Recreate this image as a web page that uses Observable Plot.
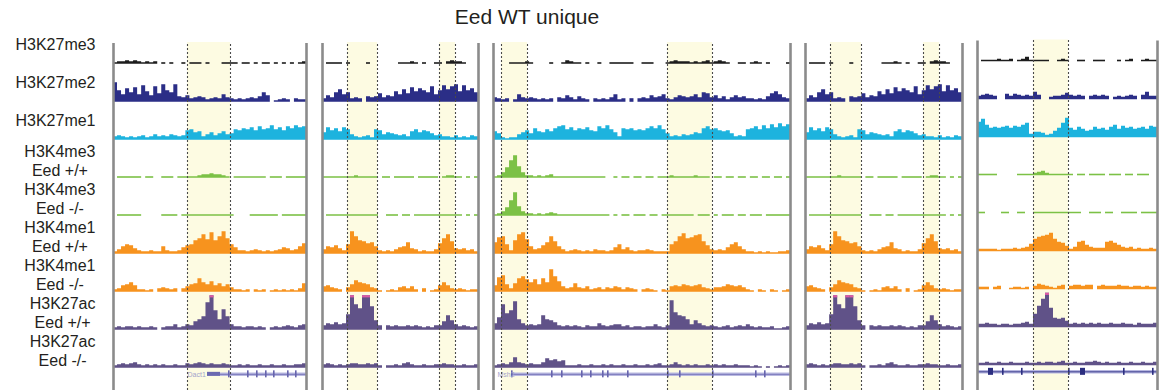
<!DOCTYPE html>
<html><head><meta charset="utf-8">
<script src="https://cdn.jsdelivr.net/npm/d3@7"></script>
<script src="https://cdn.jsdelivr.net/npm/@observablehq/plot@0.6"></script>
<style>
body{margin:0;background:#fff;font-family:"Liberation Sans",Arial,sans-serif;}
#wrap{width:1165px;}
#title{position:relative;height:30px;}
#title span{position:absolute;left:527px;top:6px;transform:translateX(-50%);font-size:21px;line-height:21px;color:#231f20;white-space:nowrap;}
</style></head><body>
<div id="wrap"><div id="title"><span>Eed WT unique</span></div><div id="chart"></div></div>
<script>
// ---------- tracks ----------
const trackLabels = ["H3K27me3","H3K27me2","H3K27me1","H3K4me3\nEed +/+","H3K4me3\nEed -/-","H3K4me1\nEed +/+","H3K4me1\nEed -/-","H3K27ac\nEed +/+","H3K27ac\nEed -/-"];
const trackColors = ["#1c1c1c","#2b2e87","#1db3de","#7cc146","#7cc146","#f7931e","#f7931e","#605288","#605288"];

// ---------- panels (genomic windows, kb) ----------
const panelStartKb = [0, 104.5, 190, 346, 432];
const panelLenKb = [96.5, 78, 148.5, 78.5, 90];

// ---------- highlighted regions (kb, relative to panel start) ----------
const highlightPanel = [0, 1, 1, 2, 2, 3, 3, 4];
const highlightStartKb = [37, 12.5, 58.5, 4, 87, 12.5, 59, 28];
const highlightEndKb = [58.5, 27.5, 66.5, 17, 109.5, 28, 67, 45.5];

// ---------- signal (binned coverage, -1 = no coverage) ----------
const p1_me3 = [0,1,1,2,1,2,1,0, 1,0,1,-1,0,-1,0,-1, -1,0,-1,0,0,0,-1,0, -1,-1,-1,0,0,0,0,-1, 0,0,-1,0,-1,0,0,-1, 0,-1,0,-1,0,-1,0,1];
const p1_me2 = [18,10,6,12,8,13,6,15, 9,5,14,7,16,10,8,16, 4,3,5,2,3,4,3,1, 2,3,2,6,3,2,1,2, 1,2,3,2,4,8,5,-1, 0,1,2,1,-1,2,1,1];
const p1_me1 = [2,3,2,1,2,1,2,3, 1,2,4,2,3,2,4,3, 2,3,8,9,6,7,2,4, 6,3,5,7,4,5,9,8, 10,9,11,8,12,9,10,13, 9,11,8,12,10,13,11,12];
const p1_k4me3p = [-1,0,0,0,0,0,0,-1, 0,0,-1,-1,0,0,0,-1, 0,0,0,0,0,1,2,2, 3,2,2,1,0,-1,0,0, 0,0,0,0,0,0,-1,0, 0,0,-1,0,0,0,0,0];
const p1_k4me3m = [-1,0,0,0,0,0,0,-1, -1,-1,-1,-1,0,0,0,0, -1,0,0,0,0,0,0,0, 0,0,0,0,0,0,-1,-1, -1,-1,0,0,0,0,0,0, 0,-1,0,0,0,0,0,0];
const p1_k4me1p = [1,3,6,8,7,4,2,1, 1,2,1,1,6,2,1,1, 2,5,7,8,12,14,18,13, 20,12,16,21,14,8,5,2, 2,1,2,3,2,1,2,1, 2,3,5,4,2,3,6,9];
const p1_k4me1m = [1,2,5,6,8,5,1,1, 0,1,-1,2,3,2,1,2, -1,2,4,6,7,12,8,6, 9,5,7,4,6,3,1,1, 0,1,-1,1,0,1,-1,0, 1,0,1,0,1,0,2,7];
const p1_acp = [1,2,1,2,2,1,2,1, 1,2,1,-1,1,2,2,4, 1,2,4,3,7,9,12,26, 33,18,9,19,12,4,2,2, 1,2,2,1,2,1,-1,1, 2,1,2,3,2,1,3,4];
const p1_acm = [1,2,3,2,3,4,2,1, 2,1,2,1,2,1,1,2, 1,1,3,2,3,4,3,2, 3,2,2,3,2,1,1,2, 1,2,1,1,2,1,1,2, 1,1,2,1,1,2,2,3];

const p2_me3 = [-1,0,0,0,0,-1,0,-1, -1,-1,-1,0,-1,-1,-1,-1, -1,-1,-1,0,0,0,1,0, -1,0,-1,-1,0,0,-1,1, 2,1,1,0,-1,-1,-1];
const p2_me2 = [2,5,3,8,11,6,8,2, 3,2,-1,4,3,4,7,3, 5,4,9,6,11,7,13,9, 12,10,8,14,6,10,15,11, 14,16,9,15,10,12,8];
const p2_me1 = [6,11,8,10,7,11,9,4, 2,1,2,3,1,9,8,4, 6,5,4,3,4,2,7,9, 6,8,7,5,3,4,2,2, 1,3,1,2,1,3,2];
const p2_k4me3p = [0,0,0,0,0,0,0,0, 1,0,0,0,0,0,-1,0, 0,-1,0,0,0,0,0,-1, 0,0,0,0,0,-1,0,1, 1,0,0,-1,0,-1,0];
const p2_k4me3m = [-1,0,0,0,0,0,0,0, 0,0,0,0,0,0,-1,-1, 0,0,0,-1,0,0,-1,0, 0,0,0,0,0,0,0,0, 0,0,0,-1,0,-1,0];
const p2_k4me1p = [3,6,5,7,4,2,8,21, 16,12,11,9,10,6,2,1, 2,1,3,5,6,10,4,3, 1,2,1,1,3,9,14,18, 11,4,3,4,2,3,1];
const p2_k4me1m = [4,5,3,2,1,-1,3,6, 10,8,7,6,3,2,0,-1, 0,1,0,3,4,2,4,1, -1,2,-1,0,1,5,8,5, 2,1,2,1,0,1,1];
const p2_acp = [3,5,4,6,4,5,14,33, 24,20,33,33,22,8,3,-1, 3,2,3,2,2,3,2,3, 2,1,2,1,3,3,7,13, 8,4,2,3,2,1,2];
const p2_acm = [2,3,2,1,2,1,2,3, 3,2,2,3,2,3,1,-1, 1,1,2,1,3,4,2,1, 1,2,1,1,2,2,3,2, 2,1,1,2,1,1,2];

const p3_me3 = [-1,-1,-1,-1,0,0,0,0, 1,0,-1,-1,-1,-1,0,-1, -1,0,2,1,0,0,-1,0, -1,-1,0,-1,-1,0,0,0, 0,0,0,-1,-1,0,0,0, -1,-1,-1,0,1,2,1,1, 1,0,1,0,1,2,0,1, 2,1,0,-1,-1,0,0,-1, 0,1,0,-1,0,-1,-1,-1, -1,0];
const p3_me2 = [3,2,1,2,-1,1,6,3, 2,3,2,1,2,1,2,-1, 3,2,5,3,1,4,2,1, -1,2,1,2,1,3,6,1, 2,-1,2,-1,2,3,2,5, 3,4,6,2,1,3,5,4, 3,4,6,3,8,7,3,5, 2,4,1,3,5,3,4,2, 2,1,2,1,4,7,9,6, 3,2];
const p3_me1 = [7,5,1,0,1,1,4,6, 8,5,10,7,6,9,7,10, 12,13,9,11,8,10,9,11, 8,7,12,10,13,9,6,2, 10,9,10,8,9,8,10,12, 10,13,9,5,2,3,2,4, 3,4,6,5,10,12,9,10, 8,7,8,5,2,3,2,9, 10,12,9,13,10,14,11,15, 12,14];
const p3_k4me3p = [0,1,4,9,16,21,10,4, 1,1,0,1,0,1,2,0, 0,0,0,0,0,0,0,0, 0,0,0,0,-1,-1,0,-1, 0,0,-1,0,0,-1,0,0, -1,0,0,0,1,0,0,0, 0,0,1,0,0,0,-1,0, 0,-1,0,0,-1,0,0,-1, 0,0,-1,0,0,-1,0,0, -1,0];
const p3_k4me3m = [0,1,3,7,14,22,8,3, 1,1,0,1,0,1,2,1, 0,0,0,0,0,0,0,0, 0,0,0,0,0,-1,0,-1, 0,0,-1,0,0,0,-1,0, 0,-1,0,0,0,0,0,0, 0,0,-1,0,0,0,-1,0, -1,0,0,0,-1,0,0,-1, 0,0,0,-1,0,0,0,0, 0,0];
const p3_k4me1p = [10,15,16,8,2,12,18,20, 13,6,3,4,7,10,16,11, 6,3,1,2,3,2,1,2, 1,3,2,2,1,2,5,8, 3,5,2,1,2,2,3,2, 1,1,1,1,8,11,16,19, 14,15,17,18,11,7,3,2, 3,2,5,8,10,6,3,1, 1,0,1,0,1,0,0,1, 1,2];
const p3_k4me1m = [5,13,15,6,2,7,12,14, 11,8,11,6,12,8,21,14, 9,4,2,3,7,3,2,4, 1,2,3,1,3,2,4,3, 1,3,2,1,-1,1,2,1, 0,-1,1,0,4,5,4,6, 5,4,5,6,3,2,1,3, 3,4,6,5,4,5,3,1, 0,-1,1,0,-1,1,0,-1, 0,1];
const p3_acp = [5,11,24,15,18,27,9,5, 3,4,3,4,13,9,8,6, 3,2,3,2,3,2,1,3, 2,2,5,3,2,3,4,4, 2,3,1,2,2,1,2,2, 4,2,1,3,28,16,13,12, 9,4,8,5,3,2,3,2, 1,2,3,1,2,3,2,4, 2,1,2,1,1,2,0,0, 1,2];
const p3_acm = [1,2,3,2,4,9,4,3, 2,3,2,2,4,8,6,7, 5,6,1,1,1,2,1,1, 2,1,1,2,1,2,1,1, 2,1,1,2,1,1,2,1, 2,3,1,1,2,4,2,1, 2,1,2,1,1,2,1,2, 1,2,1,1,2,1,1,1, 0,1,0,-1,0,-1,0,1, 0,1];

const p5_me3 = [-1,0,0,0,0,1,0,0, 1,-1,0,1,3,0,0,0, 0,0,-1,-1,0,1,0,-1, -1,0,0,-1,-1,0,0,0, -1,-1,-1,0,-1,0,1,-1, -1,0,1,0,0];
const p5_me2 = [2,3,4,3,2,-1,-1,4, 2,4,3,2,3,2,6,3, -1,-1,1,2,2,3,5,3, 2,3,2,-1,2,3,2,3, 2,-1,1,2,1,2,3,2, -1,3,6,2,2];
const p5_me1 = [14,17,11,8,9,8,9,10, 8,10,9,11,13,2,4,4, 3,1,2,5,8,13,18,8, 6,9,7,5,6,9,7,8, 6,9,11,7,10,8,9,7, 8,9,7,10,9];
const p5_k4me3p = [0,0,0,0,0,-1,-1,-1, -1,-1,0,0,0,0,1,2, 3,1,0,0,0,0,0,0, -1,0,0,-1,0,0,0,0, -1,0,0,0,-1,0,0,-1, 0,0,0,-1,-1];
const p5_k4me3m = [0,0,-1,-1,-1,-1,0,0, -1,-1,0,0,-1,-1,0,0, 0,0,0,0,0,0,0,0, 0,0,-1,-1,0,0,0,-1, 0,0,-1,-1,0,0,0,0, -1,0,0,0,0];
const p5_k4me1p = [1,1,1,1,1,0,1,1, 1,2,1,2,3,6,11,13, 14,15,17,11,8,7,4,1, 3,8,9,5,3,2,2,2, 8,9,7,5,3,2,3,1, 2,1,1,2,1];
const p5_k4me1m = [1,1,1,-1,1,2,-1,-1, 0,1,1,0,1,-1,2,4, 3,2,1,0,2,3,-1,2, 3,3,2,3,3,-1,2,3, 2,2,2,3,2,2,1,2, 2,1,2,1,1];
const p5_acp = [2,2,3,2,2,1,2,2, 1,2,2,3,4,2,12,20, 27,33,18,8,7,8,5,2, 3,2,3,2,3,2,3,2, 2,3,2,2,3,2,2,1, 3,2,2,2,3];
const p5_acm = [1,1,2,1,1,2,1,1, 2,1,1,1,2,1,1,2, 1,2,2,1,2,3,1,1, 2,1,1,2,2,3,2,1, 2,1,1,2,1,1,2,1, 1,2,1,1,2];

// panel 4 shows the same window as panel 2
const panelSignals = [
  [p1_me3,p1_me2,p1_me1,p1_k4me3p,p1_k4me3m,p1_k4me1p,p1_k4me1m,p1_acp,p1_acm],
  [p2_me3,p2_me2,p2_me1,p2_k4me3p,p2_k4me3m,p2_k4me1p,p2_k4me1m,p2_acp,p2_acm],
  [p3_me3,p3_me2,p3_me1,p3_k4me3p,p3_k4me3m,p3_k4me1p,p3_k4me1m,p3_acp,p3_acm],
  [p2_me3,p2_me2,p2_me1,p2_k4me3p,p2_k4me3m,p2_k4me1p,p2_k4me1m,p2_acp,p2_acm],
  [p5_me3,p5_me2,p5_me1,p5_k4me3p,p5_k4me3m,p5_k4me1p,p5_k4me1m,p5_acp,p5_acm]
];
const clipValue = 33;

// ---------- genes ----------
const geneNames = ["Dact1", "Msh2", ""];
const genePanel = [0, 2, 4];
const geneStartKb = [47, 9, 0];
const geneEndKb = [96.5, 148.5, 90];
const geneLabelKb = [37, 2, 0];
const utrPanel = [0];
const utrStartKb = [47];
const utrEndKb = [53.5];
const exonPanel = [0,0,0,0,0,0,0, 2,2,2,2,2,2,2,2,2,2,2,2,2, 4,4,4,4,4,4,4];
const exonStartKb = [57.5,67,71.5,76,80,87,91, 9,29,34,44,48.5,54.5,57,67,87,93,109.5,131,135.5, 5.5,51.5,12.5,22,45.5,73,87.5];
const exonEndKb   = [58.3,67.8,72.3,76.8,80.8,87.8,91.8, 9.8,29.8,34.8,44.8,49.3,55.3,57.8,67.8,87.8,93.8,110.3,131.8,136.3, 8,54,13.3,22.8,46.3,73.8,88.3];

// ---------- layout ----------
const W = 1165, H = 360, ML = 113, MR = 8;
const PX = 38;                 // pixels per track row
const k = 1 / PX;
const yTop = 33 / PX, yBot = -(H - 33) / PX;
const xDom = [0, 522];
const panelShiftPx = [0, 0, 0, 0, -2.5];
const hlTop = (33 - 12) / PX, borderTop = (33 - 13) / PX;
const geneRow = -8.18;
const pxToKb = px => xDom[0] + (px - ML) * (xDom[1] - xDom[0]) / (W - ML - MR);
const shiftOf = p => -panelShiftPx[p] * k;

// signal rows
const trackRows = trackLabels.map(() => []);
const caps = [];
let seg = 0;
panelSignals.forEach((tracks, p) => {
  tracks.forEach((arr, t) => {
    const w = panelLenKb[p] / arr.length, s = panelStartKb[p];
    const base = -t + shiftOf(p);
    arr.forEach((v, i) => {
      if (v < 0) return;
      if (i === 0 || arr[i - 1] < 0) seg++;
      const r = {x: s + i * w, y1: base - 0.8 * k, y2: base + (v + 0.8) * k, seg};
      trackRows[t].push(r);
      if (i === arr.length - 1 || arr[i + 1] < 0) trackRows[t].push({...r, x: s + (i + 1) * w});
      if (v >= clipValue) caps.push({x1: s + i * w, x2: s + (i + 1) * w, y1: base + (v - 1.4) * k, y2: base + (v + 0.8) * k});
    });
  });
});

const highlights = highlightPanel.map((p, i) => ({
  x1: panelStartKb[p] + highlightStartKb[i], x2: panelStartKb[p] + highlightEndKb[i], p}));
const hlEdges = highlights.flatMap(h => [{x: h.x1, p: h.p}, {x: h.x2, p: h.p}]);
const borders = panelStartKb.flatMap((s, p) => [{x: s, p}, {x: s + panelLenKb[p], p}]);

const genes = genePanel.map((p, i) => ({
  x1: panelStartKb[p] + geneStartKb[i], x2: panelStartKb[p] + geneEndKb[i],
  lx: panelStartKb[p] + geneLabelKb[i], name: geneNames[i], p,
  y: geneRow + shiftOf(p)}));
const utrs = utrPanel.map((p, i) => ({x1: panelStartKb[p] + utrStartKb[i], x2: panelStartKb[p] + utrEndKb[i], y: geneRow + shiftOf(p)}));
const exons = exonPanel.map((p, i) => ({x1: panelStartKb[p] + exonStartKb[i], x2: panelStartKb[p] + exonEndKb[i], p, y: geneRow + shiftOf(p)}));

// labels: first line right-aligned, second line centred under it
const cv = document.createElement("canvas").getContext("2d");
cv.font = "16px 'Liberation Sans', Arial, sans-serif";
const labelRows = [];
trackLabels.forEach((lab, t) => {
  const lines = lab.split("\n");
  const w1 = cv.measureText(lines[0]).width;
  const cx = pxToKb(95 - w1 / 2);
  if (lines.length === 1) labelRows.push({x: cx, y: -t + 18.5 * k, text: lines[0]});
  else {
    labelRows.push({x: cx, y: -t + 26 * k, text: lines[0]});
    labelRows.push({x: cx, y: -t + 7 * k, text: lines[1]});
  }
});

const marks = [
  Plot.rect(highlights, {x1: "x1", x2: "x2", y1: d => yBot, y2: d => hlTop + shiftOf(d.p), fill: "#fdfbe2"})
];
trackRows.forEach((rows, t) => {
  marks.push(Plot.area(rows, {x1: "x", y1: "y1", y2: "y2", z: "seg", curve: "step-after", fill: trackColors[t]}));
});
marks.push(
  Plot.rect(caps, {x1: "x1", x2: "x2", y1: "y1", y2: "y2", fill: "#dc5aa6"}),
  // genes
  Plot.ruleY(genes, {x1: "x1", x2: "x2", y: "y", stroke: d => d.p === 4 ? "#b7b7e0" : "#b9b9e0", strokeWidth: 3.5}),
  Plot.ruleY(genes, {x1: "x1", x2: "x2", y: "y", stroke: d => d.p === 4 ? "#3c3e8e" : "#7a78bb", strokeWidth: 1}),
  Plot.rect(utrs, {x1: "x1", x2: "x2", y1: d => d.y - 2 * k, y2: d => d.y + 2 * k, fill: "#6b69b0"}),
  Plot.rect(exons, {x1: "x1", x2: "x2", y1: d => d.y - 3.5 * k, y2: d => d.y + 3.5 * k, fill: d => d.p === 4 ? "#2b2e80" : "#6664ad"}),
  Plot.text(genes.filter(g => g.name), {x: "lx", y: "y", text: "name", textAnchor: "start", fontSize: 7, fill: "#a3a3cc"}),
  // highlight edges and panel frames
  Plot.ruleX(hlEdges, {x: "x", y1: d => yBot, y2: d => hlTop + shiftOf(d.p), stroke: "#4a4a4a", strokeWidth: 1.1, strokeDasharray: "2,2"}),
  Plot.ruleX(borders, {x: "x", y1: d => yBot, y2: d => borderTop + shiftOf(d.p), stroke: "#8b8b8b", strokeWidth: 2.6}),
  // track labels
  Plot.text(labelRows, {x: "x", y: "y", text: "text", textAnchor: "middle", lineAnchor: "middle", fontSize: 16, fill: "#231f20"})
);

const chart = Plot.plot({
  width: W, height: H,
  marginLeft: ML, marginRight: MR, marginTop: 0, marginBottom: 0,
  x: {domain: xDom, axis: null},
  y: {domain: [yBot, yTop], axis: null},
  style: {fontFamily: "'Liberation Sans', Arial, sans-serif", background: "#fff", overflow: "visible"},
  marks
});
document.getElementById("chart").appendChild(chart);
</script></body></html>
